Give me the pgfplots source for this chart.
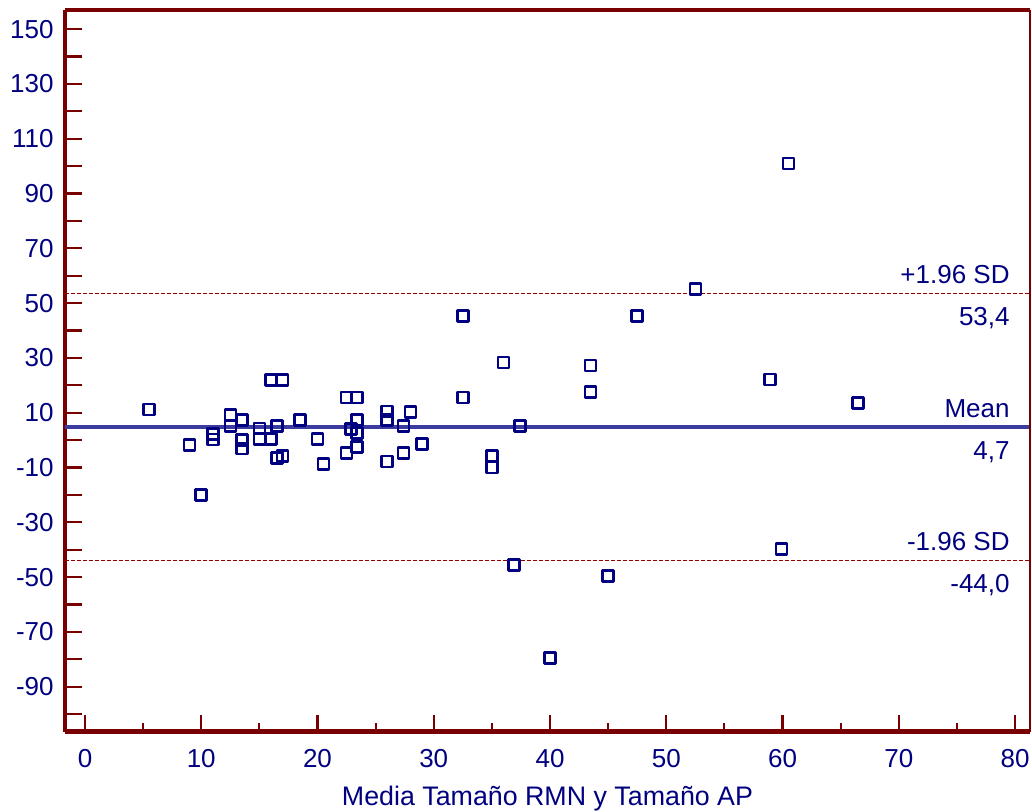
\documentclass[border=0pt]{standalone}
\usepackage{pgfplots}
\pgfplotsset{compat=1.18}
\usepackage{fontspec}
\setmainfont{Liberation Sans}
\definecolor{navy}{RGB}{0,0,128}
\definecolor{spine}{RGB}{120,0,0}
\definecolor{meanc}{RGB}{60,60,160}
\definecolor{sdc}{RGB}{150,0,0}
\begin{document}
\fontsize{13}{15}\selectfont
\begin{tikzpicture}
\useasboundingbox (-32.5pt,-40.15pt) rectangle (483.5pt,365.85pt);
\begin{axis}[
  at={(0pt,0pt)}, anchor=south west,
  scale only axis, width=482.5pt, height=360.85pt,
  xmin=-1.72, xmax=81.29, ymin=-106.4, ymax=157,
  clip=false,
  axis x line*=bottom, axis y line*=left,
  axis line style={spine, line width=2.2pt},
  tick align=inside,
  xtick={0,10,...,80}, minor x tick num=1,
  ytick={-100,-90,...,150},
  yticklabels={,-90,,-70,,-50,,-30,,-10,,10,,30,,50,,70,,90,,110,,130,,150},
  major tick length=8.4pt, minor tick length=4.2pt,
  tick style={spine, line width=1.1pt},
  /pgf/number format/assume math mode=true,
  tick label style={font=\fontsize{13}{15}\selectfont, text=navy},
  xticklabel style={anchor=north, inner sep=0pt, yshift=-8.8pt},
  yticklabel style={anchor=east, inner sep=0pt, xshift=-5.5pt},
  xlabel={Media Tamaño RMN y Tamaño AP},
  xlabel style={at={(axis description cs:0.5,0)}, anchor=base, yshift=-36.65pt, inner sep=0pt, text=navy, font=\fontsize{13.4}{15}\selectfont},
]
\addplot[only marks, mark=square, mark size=2.75pt, mark options={navy, line width=1.3pt, line join=round}] coordinates {
(5.5,11.2) (9,-1.7) (10,-20) (11,2.3) (11,0.3) (12.5,9.2) (12.5,5.2)
(13.5,7.4) (13.5,0) (13.5,-3) (15,4.2) (15,0.5) (16,0.5) (16.5,5.2)
(16,22) (17,22) (16.5,-6.6) (17,-5.8) (18.5,7.4) (20,0.4) (20.5,-8.8)
(22.5,15.5) (23.4,15.5) (23.4,7.4) (22.9,4.1) (23.4,2.7) (23.4,-2.6)
(22.5,-4.7) (26,10.4) (26,7.4) (26,-7.8) (28,10.3) (27.4,5.1) (27.4,-4.7)
(29,-1.5) (32.5,15.5) (32.5,45.3) (36,28.3) (35,-5.7) (35,-10) (37.4,5.1)
(36.9,-45.6) (40,-79.4) (43.5,27.2) (43.5,17.5) (45,-49.6) (47.5,45.3)
(52.5,55.2) (58.9,22.2) (59.9,-39.7) (60.5,101) (66.5,13.5)
};
\addplot[meanc, line width=2.1pt] coordinates {(-1.72,4.7) (81.29,4.7)};
\addplot[sdc, line width=0.55pt, dash pattern=on 2pt off 1pt] coordinates {(-1.72,53.4) (81.29,53.4)};
\addplot[sdc, line width=0.55pt, dash pattern=on 2pt off 1pt] coordinates {(-1.72,-44.0) (81.29,-44.0)};
\draw[spine, line width=2.2pt] (rel axis cs:0,1) -- (rel axis cs:1,1);
\draw[spine, line width=0.8pt] (rel axis cs:1,1) -- (rel axis cs:1,0);
\node[anchor=base east, inner sep=0pt, text=navy, xshift=-10pt, yshift=5pt] at (axis cs:81.29,53.4) {+1.96 SD};
\node[anchor=base east, inner sep=0pt, text=navy, xshift=-10pt, yshift=-15.7pt] at (axis cs:81.29,53.4) {53,4};
\node[anchor=base east, inner sep=0pt, text=navy, xshift=-10pt, yshift=4.8pt] at (axis cs:81.29,4.7) {Mean};
\node[anchor=base east, inner sep=0pt, text=navy, xshift=-10pt, yshift=-15.9pt] at (axis cs:81.29,4.7) {4,7};
\node[anchor=base east, inner sep=0pt, text=navy, xshift=-10pt, yshift=5pt] at (axis cs:81.29,-44.0) {-1.96 SD};
\node[anchor=base east, inner sep=0pt, text=navy, xshift=-10pt, yshift=-15.7pt] at (axis cs:81.29,-44.0) {-44,0};
\end{axis}
\end{tikzpicture}
\end{document}
